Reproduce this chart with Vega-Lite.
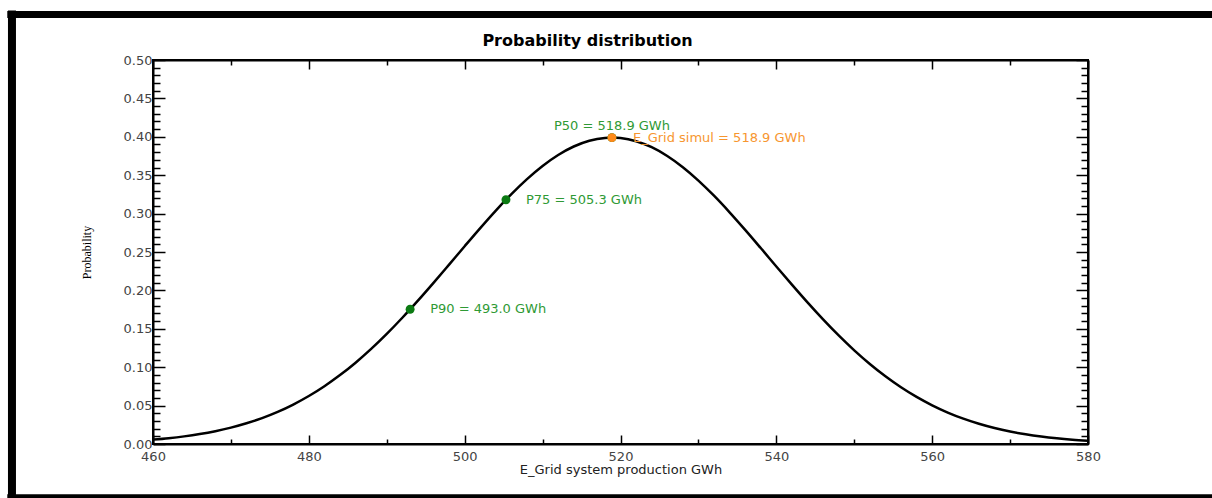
{
  "$schema": "https://vega.github.io/schema/vega-lite/v6.json",
  "autosize": "none",
  "width": 935,
  "height": 384,
  "padding": {"left": 153, "top": 60, "right": 124, "bottom": 54},
  "background": "white",
  "config": {
    "view": {"stroke": "black", "strokeWidth": 2},
    "axis": {"domainColor": "black", "domainWidth": 2, "tickColor": "black", "tickWidth": 1.5, "grid": false, "labelFont": "DejaVu Sans", "labelFontSize": 13, "labelColor": "#444", "titleFont": "DejaVu Sans", "titleFontWeight": "normal", "titleColor": "#222"}
  },
  "title": {"text": "Probability distribution", "font": "DejaVu Sans", "fontSize": 16, "fontWeight": "bold", "color": "black", "anchor": "middle", "frame": "group", "dx": -33, "offset": -43},
  "datasets": {
    "curve": [
      {"x": 460, "p": 0.005685}, {"x": 462, "p": 0.00755}, {"x": 464, "p": 0.00993}, {"x": 466, "p": 0.012932},
      {"x": 468, "p": 0.016678}, {"x": 470, "p": 0.0213}, {"x": 472, "p": 0.026937}, {"x": 474, "p": 0.033734},
      {"x": 476, "p": 0.041829}, {"x": 478, "p": 0.051368}, {"x": 480, "p": 0.062459}, {"x": 482, "p": 0.075213},
      {"x": 484, "p": 0.089686}, {"x": 486, "p": 0.105893}, {"x": 488, "p": 0.123818}, {"x": 490, "p": 0.143362},
      {"x": 492, "p": 0.16437}, {"x": 494, "p": 0.18662}, {"x": 496, "p": 0.209812}, {"x": 498, "p": 0.233585},
      {"x": 500, "p": 0.257518}, {"x": 502, "p": 0.281134}, {"x": 504, "p": 0.303918}, {"x": 506, "p": 0.325351},
      {"x": 508, "p": 0.344888}, {"x": 510, "p": 0.362039}, {"x": 512, "p": 0.376332}, {"x": 514, "p": 0.387375},
      {"x": 516, "p": 0.394851}, {"x": 518, "p": 0.398544}, {"x": 518.9, "p": 0.39894}, {"x": 520, "p": 0.398349},
      {"x": 522, "p": 0.394269}, {"x": 524, "p": 0.386425}, {"x": 526, "p": 0.375043}, {"x": 528, "p": 0.360443},
      {"x": 530, "p": 0.343034}, {"x": 532, "p": 0.32328}, {"x": 534, "p": 0.301693}, {"x": 536, "p": 0.2788},
      {"x": 538, "p": 0.255132}, {"x": 540, "p": 0.231194}, {"x": 542, "p": 0.20746}, {"x": 544, "p": 0.184345},
      {"x": 546, "p": 0.16221}, {"x": 548, "p": 0.141338}, {"x": 550, "p": 0.121952}, {"x": 552, "p": 0.104197},
      {"x": 554, "p": 0.088159}, {"x": 556, "p": 0.073863}, {"x": 558, "p": 0.06128}, {"x": 560, "p": 0.050345},
      {"x": 562, "p": 0.040958}, {"x": 564, "p": 0.032996}, {"x": 566, "p": 0.026322}, {"x": 568, "p": 0.020794},
      {"x": 570, "p": 0.016267}, {"x": 572, "p": 0.0126}, {"x": 574, "p": 0.009665}, {"x": 576, "p": 0.007342},
      {"x": 578, "p": 0.005523}, {"x": 580, "p": 0.004113}
    ],
    "marks": [
      {"id": "P90", "x": 493.0, "p": 0.1755, "label": "P90 = 493.0 GWh", "kind": "P"},
      {"id": "P75", "x": 505.3, "p": 0.318, "label": "P75 = 505.3 GWh", "kind": "P"},
      {"id": "P50", "x": 518.9, "p": 0.3989, "label": "P50 = 518.9 GWh", "kind": "P"},
      {"id": "SIM", "x": 518.9, "p": 0.3989, "label": "E_Grid simul = 518.9 GWh", "kind": "SIM"}
    ],
    "one": [{}]
  },
  "resolve": {"axis": {"x": "independent", "y": "independent"}},
  "layer": [
    {
      "data": {"name": "curve"},
      "mark": {"type": "line", "color": "black", "strokeWidth": 2.5, "interpolate": "monotone"},
      "encoding": {
        "x": {"field": "x", "type": "quantitative", "scale": {"domain": [460, 580], "nice": false, "zero": false},
          "axis": {"orient": "bottom", "title": "E_Grid system production GWh", "titleFontSize": 13, "titlePadding": 0,
            "values": [460, 470, 480, 490, 500, 510, 520, 530, 540, 550, 560, 570, 580],
            "labelExpr": "datum.value % 20 === 0 ? datum.label : ''",
            "tickSize": {"condition": {"test": "datum.value % 20 === 0", "value": -9}, "value": -5},
            "labelPadding": 15, "labelFlush": false}},
        "y": {"field": "p", "type": "quantitative", "scale": {"domain": [0, 0.5], "nice": false},
          "axis": {"orient": "left", "title": "Probability", "titleFont": "Liberation Serif", "titleFontSize": 12, "titleColor": "black", "titlePadding": 30,
            "values": [0,0.01,0.02,0.03,0.04,0.05,0.06,0.07,0.08,0.09,0.1,0.11,0.12,0.13,0.14,0.15,0.16,0.17,0.18,0.19,0.2,0.21,0.22,0.23,0.24,0.25,0.26,0.27,0.28,0.29,0.3,0.31,0.32,0.33,0.34,0.35,0.36,0.37,0.38,0.39,0.4,0.41,0.42,0.43,0.44,0.45,0.46,0.47,0.48,0.49,0.5],
            "labelExpr": "abs(datum.value*20 - round(datum.value*20)) < 0.001 ? format(datum.value, '.2f') : ''",
            "tickSize": {"condition": {"test": "abs(datum.value*20 - round(datum.value*20)) < 0.001", "value": -12}, "value": -7},
            "labelPadding": 13, "labelFlush": false}}
      }
    },
    {
      "data": {"name": "marks"},
      "transform": [{"filter": "datum.kind === 'P'"}],
      "mark": {"type": "circle", "size": 80, "color": "#0b7a12", "opacity": 1},
      "encoding": {
        "x": {"field": "x", "type": "quantitative",
          "axis": {"orient": "top", "title": null, "labels": false,
            "values": [460, 470, 480, 490, 500, 510, 520, 530, 540, 550, 560, 570, 580],
            "tickSize": {"condition": {"test": "datum.value % 20 === 0", "value": -9}, "value": -5}}},
        "y": {"field": "p", "type": "quantitative",
          "axis": {"orient": "right", "title": null, "labels": false,
            "values": [0,0.01,0.02,0.03,0.04,0.05,0.06,0.07,0.08,0.09,0.1,0.11,0.12,0.13,0.14,0.15,0.16,0.17,0.18,0.19,0.2,0.21,0.22,0.23,0.24,0.25,0.26,0.27,0.28,0.29,0.3,0.31,0.32,0.33,0.34,0.35,0.36,0.37,0.38,0.39,0.4,0.41,0.42,0.43,0.44,0.45,0.46,0.47,0.48,0.49,0.5],
            "tickSize": {"condition": {"test": "abs(datum.value*20 - round(datum.value*20)) < 0.001", "value": -12}, "value": -7}}}
      }
    },
    {
      "data": {"name": "marks"},
      "transform": [{"filter": "datum.kind === 'SIM'"}],
      "mark": {"type": "circle", "size": 80, "color": "#ff8a1a", "opacity": 1},
      "encoding": {
        "x": {"field": "x", "type": "quantitative", "axis": null},
        "y": {"field": "p", "type": "quantitative", "axis": null}
      }
    },
    {
      "data": {"name": "marks"},
      "transform": [{"filter": "datum.id === 'P90' || datum.id === 'P75'"}],
      "mark": {"type": "text", "align": "left", "baseline": "middle", "dx": 20, "font": "DejaVu Sans", "fontSize": 13, "color": "#2f9a35"},
      "encoding": {
        "x": {"field": "x", "type": "quantitative", "axis": null},
        "y": {"field": "p", "type": "quantitative", "axis": null},
        "text": {"field": "label"}
      }
    },
    {
      "data": {"name": "marks"},
      "transform": [{"filter": "datum.id === 'P50'"}],
      "mark": {"type": "text", "align": "center", "baseline": "alphabetic", "dy": -8, "font": "DejaVu Sans", "fontSize": 13, "color": "#2f9a35"},
      "encoding": {
        "x": {"field": "x", "type": "quantitative", "axis": null},
        "y": {"field": "p", "type": "quantitative", "axis": null},
        "text": {"field": "label"}
      }
    },
    {
      "data": {"name": "marks"},
      "transform": [{"filter": "datum.id === 'SIM'"}],
      "mark": {"type": "text", "align": "left", "baseline": "middle", "dx": 21, "font": "DejaVu Sans", "fontSize": 13, "color": "#f7962f"},
      "encoding": {
        "x": {"field": "x", "type": "quantitative", "axis": null},
        "y": {"field": "p", "type": "quantitative", "axis": null},
        "text": {"field": "label"}
      }
    },
    {
      "data": {"name": "one"},
      "mark": {"type": "rule", "color": "black", "strokeWidth": 8, "clip": false},
      "encoding": {
        "x": {"datum": 441.9, "type": "quantitative", "axis": null},
        "y": {"datum": 0.5645, "type": "quantitative", "axis": null},
        "y2": {"datum": -0.08}
      }
    },
    {
      "data": {"name": "one"},
      "mark": {"type": "rule", "color": "black", "strokeWidth": 7, "clip": false},
      "encoding": {
        "x": {"datum": 441.3, "type": "quantitative", "axis": null},
        "x2": {"datum": 600},
        "y": {"datum": 0.5592, "type": "quantitative", "axis": null}
      }
    },
    {
      "data": {"name": "one"},
      "mark": {"type": "rule", "color": "black", "strokeWidth": 8, "clip": false},
      "encoding": {
        "x": {"datum": 441.3, "type": "quantitative", "axis": null},
        "x2": {"datum": 600},
        "y": {"datum": -0.0705, "type": "quantitative", "axis": null}
      }
    }
  ]
}
